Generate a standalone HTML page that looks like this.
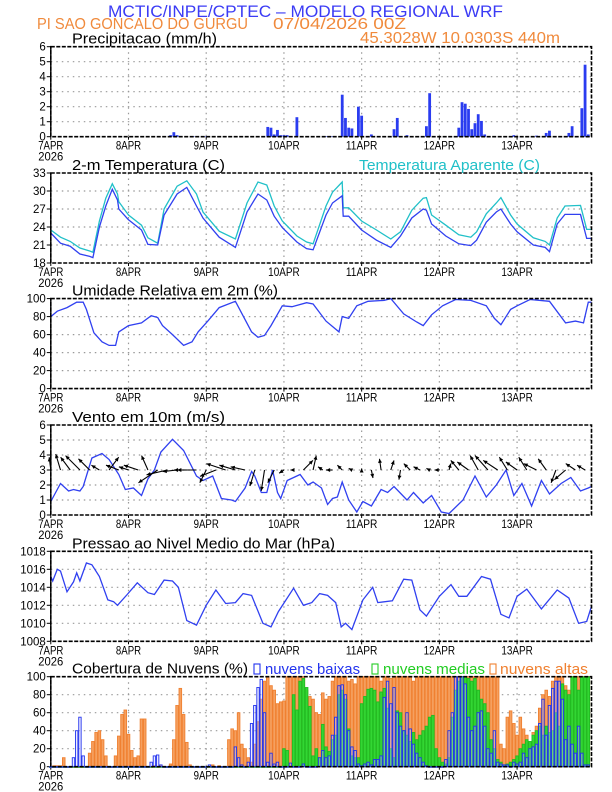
<!DOCTYPE html>
<html><head><meta charset="utf-8"><style>
body{margin:0;background:#fff;}
svg{display:block;font-family:"Liberation Sans",sans-serif;}
</style></head><body>
<svg id="chart" width="612" height="792" viewBox="0 0 612 792">
<text x="108" y="17" font-size="17" fill="#3b3bf5" textLength="395" lengthAdjust="spacingAndGlyphs">MCTIC/INPE/CPTEC – MODELO REGIONAL WRF</text>
<text x="37" y="29" font-size="16" fill="#f08a3c" textLength="211" lengthAdjust="spacingAndGlyphs">PI SAO GONCALO DO GURGU</text>
<text x="273" y="29" font-size="16" fill="#f08a3c" textLength="133" lengthAdjust="spacingAndGlyphs">07/04/2026 00Z</text>
<text x="360" y="43" font-size="16" fill="#f08a3c" textLength="200" lengthAdjust="spacingAndGlyphs">45.3028W 10.0303S 440m</text>
<g id="g"></g>
</svg>
<script>
// ---- data ----
const dayLabels=["7APR","8APR","9APR","10APR","11APR","12APR","13APR"];
const precipHours=[37,38,39,40,44,48,67,68,69,70,71,72,73,76,85,87,90,91,92,93,95,96,99,106,107,110,116,117,126,127,128,129,130,131,132,133,134,143,150,153,154,160,161,164,165,166];
const precipVals=[0.1,0.3,0.1,0.05,0.03,0.03,0.65,0.6,0.15,0.45,0.1,0.1,0.1,1.3,0.03,0.03,2.8,1.25,0.6,0.55,2.0,1.4,0.15,0.5,1.25,0.1,0.7,2.9,0.6,2.3,2.2,1.85,0.5,0.9,1.5,1.05,0.15,0.1,0.07,0.25,0.4,0.25,0.7,1.9,4.8,0.15];
const tempHours=[0,3,6,9,12,13,15,17,19,20.6,21,24,28,30,33,35,39,42,45,47,52,57,60.6,64,66.7,69,71.5,76,79,81,85,87,90,90.3,92,96,100.6,105,108,111.5,115,116,117.6,122,126,129.7,131.5,134.5,137.6,139,142,144,149,152.7,154,156.4,158.8,163.6,165.5,167];
const tempVals=[23,21.3,20.8,19.5,19.1,18.9,24,27.5,30.3,28.5,27,25.2,23.5,21.1,21,26,29.5,30.6,27.5,25.5,22.3,20.6,26.5,29.5,28.5,25.8,23.9,21.5,20.4,20.2,26,28,29.2,25.8,25.8,23.5,21.8,20.6,22.5,25.5,27,26.8,24.5,22.5,21.2,20.9,21.8,24.8,26.5,27,24.5,23.2,21,20.6,19.9,24.5,26.1,26.1,22.1,22.1];
const appVals=[23.5,22.3,21.6,20.5,20,19.8,25,28.8,31.2,29.5,28.2,26,24.3,22.2,21.3,27,30.8,31.7,29.5,26.5,23.3,22,28,31.5,31,27.5,25,22.5,21.5,21.2,27.5,29.8,31.5,27.2,27.2,25,23.5,22,23.2,26.8,28.8,28.9,26,24.3,22.7,22.3,23.2,26.2,28,28.9,26,24.5,22.2,21.6,21,25.5,27.5,27.6,23.6,23.6];
const rhHours=[0,2,5,8,10,11,13.3,15.8,18,20,21,24,28,31,33,34.5,37.6,41,43.6,45.5,48.5,52,57,62,64,66,68,71.5,74.5,79,81,85,89,90,92,94.5,98,103,105,109,113,115,117.6,121,125,129.7,134.5,137,139,142,144,148,154,159,162,164.5,166,167];
const rhVals=[80,86,90,96,96,88,62,52,48,48,63,70,73,81,79,70,60,48,52,63,75,90,97,63,57,59,70,92,91,95.5,94,75,63,80,78,92,97,98,100,83,74,70,82,92,99,98,92,78,71,88,92,99,97,73,75,73,96,96];
const windHours=[0,3,5.5,7,9,10,12.7,15.8,18,21,23,25.5,28,30,32,34,37.6,41,45,47,50,52.7,55.8,57,60,62,63,65,66.7,68.5,70,71,73,77,79.4,81,83.6,85.5,87,88.5,90,92,94.5,96.4,99,102,104,106,110,112,115,117.6,120.6,123,127.3,131,134.5,137.6,140.6,143,145.5,148.5,151.5,154,157.6,160.6,163.6,166,167];
const windVals=[0.9,2.1,1.6,1.7,1.6,1.9,3.8,4.1,3.7,2.7,1.7,1.8,1.3,2.4,3.0,4.2,5.05,4.3,2.6,2.3,2.6,1.1,1.0,0.9,1.8,2.9,2.6,1.5,1.5,3.0,1.5,1.1,2.3,2.7,2.0,2.2,1.8,0.7,1.1,1.2,2.2,1.0,0.2,0.9,0.6,1.7,1.5,1.9,1.0,1.5,0.8,1.3,0.2,0.1,1.0,2.6,1.2,2.0,3.0,1.3,2.1,0.6,2.3,1.4,2.1,2.5,1.6,1.8,1.9];
const arrowHours=[0,3,6,9,12,15,18,21,24,27,30,33,36,39,42,45,48,51,54,57,60,63,66,69,72,75,78,81,84,87,90,93,96,99,102,105,108,111,114,117,120,123,126,129,132,135,138,141,144,147,150,153,156,159,162,165];
const arrowU=[-0.1,-0.3,-0.6,-0.9,-0.7,-0.5,0.6,-0.8,-0.6,-0.9,-0.4,-1.2,-1.3,-0.9,-0.8,-1.2,-0.4,-1.0,-1.2,-1.0,-0.9,-0.3,-0.2,-0.4,-0.3,-0.2,0.6,0.2,-0.3,-0.4,-0.3,-0.2,0.0,0.1,-0.1,0.2,-0.1,-0.4,-0.4,-0.2,-0.3,0.1,-0.5,-0.7,-0.5,-0.8,-0.9,-0.5,-0.7,-0.5,-0.8,-0.5,-0.3,-0.7,-0.6,-0.5];
const arrowV=[0.8,1.0,0.8,0.9,0.7,0.3,0.8,0.3,0.2,0.3,0.9,-0.8,-0.3,-0.1,0.0,0.0,-0.8,-0.4,0.4,0.3,0.2,-1.0,-1.3,-0.8,-0.2,0.0,0.6,0.9,0.2,0.0,0.3,0.1,0.1,-0.5,0.7,0.6,-0.6,0.4,0.2,0.1,0.0,0.4,0.6,0.5,0.9,0.9,0.6,0.8,0.5,0.8,0.4,0.7,-0.8,-0.6,0.4,0.3];
const presHours=[0,0.6,2,3,5,7,8,9,11,12.7,15,17.6,19.4,20.6,23.6,26.7,30,32,35,37.6,39.4,42,45,48,51,54,57,59.4,62,65.5,68,70.3,75,78,80.6,83,85.5,88,89.7,91,93,96.4,99.4,101,105.5,109,111.5,114,116,120,123.6,126,128.5,133,135.8,139,141.5,144,147,151.5,156.4,160,163,165.5,167];
const presVals=[1015.2,1014.7,1016.0,1015.8,1013.5,1014.6,1015.6,1014.7,1016.7,1016.5,1015.2,1012.6,1012.4,1012.0,1013.2,1014.5,1013.4,1013.2,1014.8,1014.7,1014.0,1010.3,1009.8,1012.0,1013.7,1012.2,1012.3,1013.3,1013.1,1010.0,1009.6,1011.3,1013.9,1012.0,1012.3,1013.3,1013.1,1012.3,1009.6,1010.0,1009.3,1012.6,1014.0,1012.3,1012.5,1014.9,1014.8,1011.5,1010.8,1013.0,1014.3,1013.0,1013.0,1015.2,1014.9,1011.0,1010.6,1013.0,1013.8,1011.6,1013.7,1012.8,1010.0,1010.2,1011.9];
// hourly cloud cover, hours 0..166
const cloudHigh=[0,1,1,1,10,0,0,0,0,0,0,0,15,28,38,40,30,12,0,0,12,34,58,63,36,18,10,12,53,53,0,0,1,0,1,0,0,3,30,68,87,58,27,2,0,0,0,0,0,0,2,0,1,0,0,30,42,40,60,25,20,10,5,25,50,75,95,100,90,85,70,72,73,100,100,100,100,100,100,85,78,75,60,58,82,75,78,95,100,100,100,100,95,97,92,100,100,100,100,100,100,100,95,100,100,98,100,100,100,100,100,100,95,100,100,100,100,100,100,100,100,100,100,100,100,100,100,100,100,100,100,100,100,100,100,100,100,100,100,25,20,55,62,48,35,55,42,35,25,38,45,65,80,85,78,95,100,100,100,90,85,100,100,100,100,100,100];
const cloudMid=[0,0,0,0,0,0,0,0,0,0,0,0,0,0,0,0,0,0,0,0,0,0,0,0,0,0,0,0,0,0,0,0,0,0,0,0,0,0,0,0,0,0,0,0,0,0,0,0,0,0,0,0,0,0,0,0,0,0,0,0,0,0,0,0,0,0,0,0,0,0,0,0,20,18,0,80,63,95,98,88,67,12,20,10,47,22,17,30,35,80,85,75,42,12,10,10,70,78,86,87,85,72,83,87,65,20,10,62,60,40,35,28,38,30,35,40,45,55,57,20,10,5,3,10,55,85,95,100,100,98,95,98,85,75,70,60,30,20,8,5,2,3,5,8,12,20,25,30,28,35,40,45,35,45,38,40,60,45,92,85,80,100,100,85,100,100,100];
const cloudLow=[0,0,0,0,0,0,0,10,40,55,12,0,0,0,0,0,0,0,0,0,0,0,0,0,0,0,0,0,0,0,0,5,12,13,2,0,0,0,0,0,0,0,0,0,0,0,0,0,0,2,0,0,0,0,0,0,0,22,10,2,0,5,48,68,88,97,60,5,15,3,5,0,0,0,4,0,0,0,3,0,0,0,0,10,18,10,12,35,55,90,91,80,40,22,18,3,1,3,5,2,8,8,12,77,95,70,88,60,45,40,60,42,25,15,10,5,1,0,0,0,0,0,8,40,60,100,100,100,92,55,40,45,60,62,45,20,15,40,5,3,2,2,0,5,3,5,15,10,20,22,25,48,75,35,68,87,95,95,75,30,45,25,15,45,15,2,2];

// ---- drawing ----
const NS="http://www.w3.org/2000/svg";
const G=document.getElementById('g');
const X0=50.8, PXH=3.238, X1=591.5;
function xs(h){return X0+h*PXH;}
function mk(tag,attrs,parent){const e=document.createElementNS(NS,tag);for(const k in attrs)e.setAttribute(k,attrs[k]);(parent||G).appendChild(e);return e;}
function panel(name,top,ymin,ymax,ticks,title,titleW){
  const H=90, bot=top+H;
  const ys=v=>bot-(v-ymin)/(ymax-ymin)*H;
  const grp=mk('g',{});
  
  
  ticks.forEach(t=>{
    const y=ys(t);
    if(t!==ymin&&t!==ymax){const l=mk('line',{x1:X0,x2:X1,y1:y,y2:y,stroke:'#999','stroke-width':1.2,'stroke-dasharray':'1.5,4'},grp);}
    const tk=mk('line',{x1:X0-4,x2:X0,y1:y,y2:y,stroke:'#000'},grp);
    
    const tx=mk('text',{x:X0-5,y:y+4,'font-size':11.5,'text-anchor':'end',fill:'#000'},grp);tx.textContent=t;
    
  });
  dayLabels.forEach((d,i)=>{
    const x=xs(i*24);
    if(i>0){const l=mk('line',{x1:x,x2:x,y1:top,y2:bot,stroke:'#999','stroke-width':1.2,'stroke-dasharray':'1.5,4'},grp);}
    const tk=mk('line',{x1:x,x2:x,y1:bot,y2:bot+3,stroke:'#000'},grp);
    
    const tx=mk('text',{x:x,y:bot+13,'font-size':11.5,'text-anchor':'middle',fill:'#000',textLength:d.length*6.3,lengthAdjust:'spacingAndGlyphs'},grp);tx.textContent=d;
    
  });
  const yr=mk('text',{x:X0,y:bot+24,'font-size':11.5,'text-anchor':'middle',fill:'#000',textLength:25,lengthAdjust:'spacingAndGlyphs'},grp);yr.textContent='2026';
  
  const tt=mk('text',{x:72,y:top-3,'font-size':14.5,fill:'#000',textLength:titleW,lengthAdjust:'spacingAndGlyphs'},grp);tt.textContent=title;
  
  return {grp,ys,top,bot};
}
function frame(p,name){
  const r=mk('rect',{x:X0,y:p.top,width:X1-X0,height:p.bot-p.top,fill:'none',stroke:'#000','stroke-width':1.6,'stroke-dasharray':'4,1.5'},p.grp);
  
  const l=mk('line',{x1:X0,x2:X0,y1:p.top,y2:p.bot,stroke:'#000','stroke-width':1.4},p.grp);
  
}
function line(p,hours,vals,color,name){
  const d=hours.map((h,i)=>(i?'L':'M')+xs(h).toFixed(1)+','+p.ys(vals[i]).toFixed(1)).join('');
  const e=mk('path',{d,fill:'none',stroke:color,'stroke-width':1.3},p.grp);
  
}
// Panel 1 precip
const p1=panel('precipitation',46.7,0,6,[0,1,2,3,4,5,6],'Precipitacao (mm/h)',145);
precipHours.forEach((h,i)=>{
  const y=p1.ys(precipVals[i]);
  const b=mk('rect',{x:xs(h)-1.4,y:y,width:2.8,height:Math.max(0.5,p1.bot-y),fill:'#2a3cf0'},p1.grp);
  
});
frame(p1,'precipitation');
// Panel 2 temp
const p2=panel('temperature',173,18,33,[18,21,24,27,30,33],'2-m Temperatura (C)',153);
line(p2,tempHours,appVals,'#20c0c8','apparent-temperature-line');
line(p2,tempHours,tempVals,'#3040f0','temperature-line');
frame(p2,'temperature');
{const t=mk('text',{x:359,y:170,'font-size':14.5,fill:'#20c0c8',textLength:181,lengthAdjust:'spacingAndGlyphs'});t.textContent='Temperatura Aparente (C)';
}
// Panel 3 RH
const p3=panel('humidity',298.6,0,100,[0,20,40,60,80,100],'Umidade Relativa em 2m (%)',206);
line(p3,rhHours,rhVals,'#3040f0','humidity-line');
frame(p3,'humidity');
// Panel 4 wind
const p4=panel('wind',425,0,6,[0,1,2,3,4,5,6],'Vento em 10m (m/s)',153);
line(p4,windHours,windVals,'#3040f0','wind-speed-line');
arrowHours.forEach((h,i)=>{
  const x=xs(h), y=p4.ys(3), S=16;
  const tx=x+arrowU[i]*S, ty=y-arrowV[i]*S;
  const len=Math.hypot(tx-x,ty-y);
  const ag=mk('g',{},p4.grp);
  
  mk('line',{x1:x,y1:y,x2:tx,y2:ty,stroke:'#000','stroke-width':1.1},ag);
  if(len>1){const a=Math.atan2(ty-y,tx-x),hl=4.5;
    mk('path',{d:`M${tx},${ty}L${tx-hl*Math.cos(a-0.45)},${ty-hl*Math.sin(a-0.45)}L${tx-hl*Math.cos(a+0.45)},${ty-hl*Math.sin(a+0.45)}Z`,fill:'#000'},ag);}
});
frame(p4,'wind');
// Panel 5 pressure
const p5=panel('pressure',551.3,1008,1018,[1008,1010,1012,1014,1016,1018],'Pressao ao Nivel Medio do Mar (hPa)',263);
line(p5,presHours,presVals,'#3040f0','pressure-line');
frame(p5,'pressure');
// Panel 6 clouds
const p6=panel('cloud-cover',676.7,0,100,[0,20,40,60,80,100],'Cobertura de Nuvens (%)',176);
function bars(vals,fill,stroke,name,w){
  vals.forEach((v,h)=>{ if(h>166)return;
    const y=p6.ys(v);
    const b=mk('rect',{x:xs(h)-w/2,y:y,width:w,height:Math.max(0.6,p6.bot-y),fill:fill,stroke:stroke,'stroke-width':0.9},p6.grp);
    
  });
}
bars(cloudHigh,'#f5a060','#f08030','high-cloud-bar',2.6);
bars(cloudMid,'#33d633','#22bb22','mid-cloud-bar',2.6);
bars(cloudLow,'rgba(200,200,255,0.35)','#2233ee','low-cloud-bar',2.4);
frame(p6,'cloud-cover');
[['#2233ee',254,'nuvens baixas',265,95,'legend-low-clouds'],['#22cc22',372,'nuvens medias',383,102,'legend-mid-clouds'],['#f08030',490,'nuvens altas',500,88,'legend-high-clouds']].forEach(L=>{
  const lg=mk('g',{});
  
  mk('rect',{x:L[1],y:664,width:6,height:10,fill:'none',stroke:L[0],'stroke-width':1.1},lg);
  const t=mk('text',{x:L[3],y:674,'font-size':14.5,fill:L[0],textLength:L[4],lengthAdjust:'spacingAndGlyphs'},lg);t.textContent=L[2];
});
</script>
</body></html>
